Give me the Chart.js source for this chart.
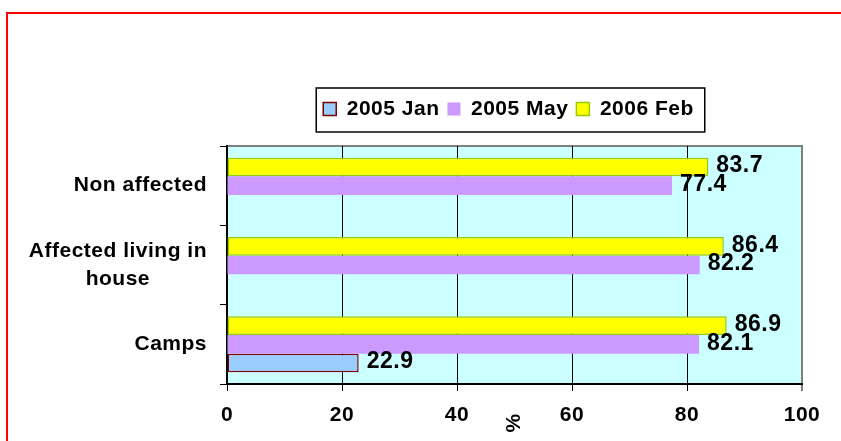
<!DOCTYPE html>
<html>
<head>
<meta charset="utf-8">
<title>Survey results by group</title>
<script src="https://cdn.jsdelivr.net/npm/chart.js@4.4.1/dist/chart.umd.min.js"></script>
<style>
  html, body { margin: 0; padding: 0; background: #ffffff; }
  canvas { display: block; }
</style>
</head>
<body>
<canvas id="chart" width="841" height="441"></canvas>
<script>
// Groups (top to bottom) and the three survey rounds, in %
const categories = ['Non affected', ['Affected living in', 'house'], 'Camps'];
const seriesNames = ['2005 Jan', '2005 May', '2006 Feb'];
const jan2005 = [null, null, 22.9];
const may2005 = [77.4, 82.2, 82.1];
const feb2006 = [83.7, 86.4, 86.9];
const xTicks = [0, 20, 40, 60, 80, 100];
const xTitle = '%';

const FAMILY = '"Liberation Sans", Arial, sans-serif';
const SPACING = '0.5px';
const FONT_SIZE = 21;
const LEGEND_PAD = 8;

// Pad the shorter lines of a wrapped label so the lines sit centred on each other
function centreLines(label) {
  if (!Array.isArray(label)) return label;
  const m = document.createElement('canvas').getContext('2d');
  m.font = 'bold ' + FONT_SIZE + 'px ' + FAMILY;
  m.letterSpacing = SPACING;
  const widths = label.map(s => m.measureText(s).width);
  const widest = Math.max(...widths);
  const space = m.measureText(' ').width;
  return label.map((s, i) => s + ' '.repeat(Math.round((widest - widths[i]) / 2 / space)));
}

const decorations = {
  id: 'decorations',
  beforeUpdate(chart) {
    chart.ctx.letterSpacing = SPACING;
  },
  afterLayout(chart) {
    // legend sits above the plot, centred slightly left of the plot centre
    const lg = chart.legend;
    const a = chart.chartArea;
    const h = lg.bottom - lg.top;
    const shift = (a.left + a.right) / 2 - 6 - (lg.left + lg.right) / 2;
    lg.left += shift;
    lg.right += shift;
    lg.top = a.top - 37 - LEGEND_PAD - FONT_SIZE / 2;
    lg.bottom = lg.top + h;
  },
  beforeDraw(chart) {
    const { ctx, chartArea: a } = chart;
    ctx.letterSpacing = SPACING;
    ctx.save();
    ctx.fillStyle = '#ffffff';
    ctx.fillRect(0, 0, chart.width, chart.height);
    ctx.strokeStyle = '#ff0000';
    ctx.lineWidth = 2;
    ctx.strokeRect(7, 13, chart.width, chart.height);
    ctx.fillStyle = '#ccffff';
    ctx.fillRect(a.left, a.top, a.right - a.left, a.bottom - a.top);
    ctx.strokeStyle = '#808080';
    ctx.lineWidth = 2;
    ctx.beginPath();
    ctx.moveTo(a.left, a.top);
    ctx.lineTo(a.right + 1, a.top);
    ctx.stroke();
    ctx.restore();
  },
  afterDatasetsDraw(chart) {
    // value labels at the end of each bar
    const ctx = chart.ctx;
    ctx.save();
    ctx.font = 'bold 23px ' + FAMILY;
    ctx.letterSpacing = SPACING;
    ctx.fillStyle = '#000000';
    ctx.textAlign = 'left';
    ctx.textBaseline = 'middle';
    chart.data.datasets.forEach((ds, i) => {
      chart.getDatasetMeta(i).data.forEach((bar, j) => {
        const v = ds.data[j];
        if (v === null || v === undefined) return;
        ctx.fillText(v.toFixed(1), bar.x + 8, bar.y - 1);
      });
    });
    ctx.restore();
  },
  afterDraw(chart) {
    const { ctx, chartArea: a } = chart;
    ctx.save();
    // frame round the legend
    const boxes = chart.legend.legendHitBoxes;
    if (boxes && boxes.length) {
      const left = Math.min(...boxes.map(b => b.left)) - 7;
      const right = Math.max(...boxes.map(b => b.left + b.width)) + 11;
      ctx.strokeStyle = '#000000';
      ctx.lineWidth = 1.5;
      ctx.strokeRect(left, a.top - 58, right - left, 44);
    }
    // rotated axis title under the value axis
    ctx.font = 'bold ' + FONT_SIZE + 'px ' + FAMILY;
    ctx.fillStyle = '#000000';
    ctx.textAlign = 'center';
    ctx.textBaseline = 'middle';
    ctx.translate((a.left + a.right) / 2, a.bottom + 39);
    ctx.rotate(-Math.PI / 2);
    ctx.fillText(xTitle, 0, 0);
    ctx.restore();
  }
};

const tickFont = { family: FAMILY, size: FONT_SIZE, weight: 'bold' };

new Chart(document.getElementById('chart'), {
  type: 'bar',
  data: {
    labels: categories.map(centreLines),
    datasets: [
      { label: seriesNames[2], data: feb2006, backgroundColor: '#ffff00', borderColor: '#99cc00', borderWidth: 1.5 },
      { label: seriesNames[1], data: may2005, backgroundColor: '#cc99ff', borderColor: '#cc99ff', borderWidth: 0 },
      { label: seriesNames[0], data: jan2005, backgroundColor: '#99ccff', borderColor: '#800000', borderWidth: 1.5 }
    ]
  },
  options: {
    indexAxis: 'y',
    responsive: false,
    animation: false,
    devicePixelRatio: 1,
    datasets: {
      bar: { categoryPercentage: 0.705, barPercentage: 1, borderSkipped: false }
    },
    layout: { padding: { top: 146 - (FONT_SIZE + LEGEND_PAD + 10), right: 39, bottom: 0, left: 0 } },
    plugins: {
      legend: {
        position: 'top',
        reverse: true,
        labels: {
          color: '#000000',
          font: tickFont,
          boxWidth: 13,
          boxHeight: 13,
          padding: LEGEND_PAD
        }
      },
      tooltip: { enabled: false }
    },
    scales: {
      x: {
        min: 0,
        max: 100,
        afterBuildTicks(scale) { scale.ticks = xTicks.map(v => ({ value: v })); },
        grid: {
          color: c => (c.tick && c.tick.value === 100 ? '#808080' : '#000000'),
          lineWidth: c => (c.tick && c.tick.value === 100 ? 2 : 1),
          tickColor: '#000000',
          tickWidth: 1,
          tickLength: 7
        },
        border: { color: '#000000', width: 2 },
        ticks: { color: '#000000', padding: 12, font: tickFont, maxRotation: 0 },
        afterFit(scale) { scale.height = 57; }
      },
      y: {
        grid: { drawOnChartArea: false, drawTicks: true, tickLength: 7, color: '#000000', lineWidth: 1, offset: true },
        border: { color: '#000000', width: 2 },
        ticks: { color: '#000000', padding: 13, font: { family: FAMILY, size: FONT_SIZE, weight: 'bold', lineHeight: 1.36 } },
        afterFit(scale) { scale.width = 227; }
      }
    }
  },
  plugins: [decorations]
});
</script>
</body>
</html>
